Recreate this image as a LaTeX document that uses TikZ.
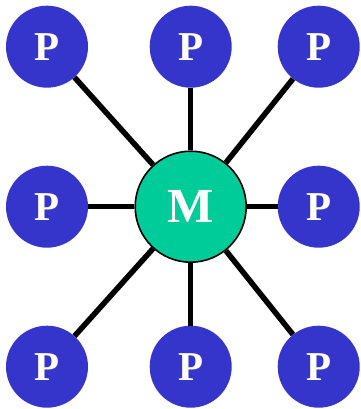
\documentclass[tikz,border=0pt]{standalone}
\usepackage{fontspec}
\setmainfont{Liberation Serif}
\usetikzlibrary{positioning}

\definecolor{procblue}{RGB}{53,53,204}
\definecolor{memgreen}{RGB}{0,204,153}

\begin{document}
\begin{tikzpicture}[x=1pt, y=-1pt,
    proc/.style={circle, fill=procblue, minimum size=82pt, inner sep=0pt, text=white, font=\bfseries\fontsize{41}{41}\selectfont},
    mem/.style={circle, draw=black, line width=1.6pt, fill=memgreen, minimum size=111pt, inner sep=0pt, text=white, font=\bfseries\fontsize{49}{49}\selectfont},
    link/.style={line width=5.5pt}]

    % Picture frame
    \useasboundingbox (0,0) rectangle (360,409);

    % Shared memory in the middle
    \node [mem] (memory) at (190.7,206.7) {M};

    % Processors, top row
    \node [proc] (p_nw) at (47,46.7) {P};
    \node [proc] (p_n) at (190.7,46.7) {P};
    \node [proc] (p_ne) at (318.7,46.7) {P};

    % Processors, middle row
    \node [proc] (p_w) at (47,206.7) {P};
    \node [proc] (p_e) at (318.7,206.7) {P};

    % Processors, bottom row
    \node [proc] (p_sw) at (47,366.7) {P};
    \node [proc] (p_s) at (190.7,366.7) {P};
    \node [proc] (p_se) at (318.7,366.7) {P};

    % Links to the memory
    \draw [link] (memory) -- (p_nw);
    \draw [link] (memory) -- (p_n);
    \draw [link] (memory) -- (p_ne);
    \draw [link] (memory) -- (p_w);
    \draw [link] (memory) -- (p_e);
    \draw [link] (memory) -- (p_sw);
    \draw [link] (memory) -- (p_s);
    \draw [link] (memory) -- (p_se);

\end{tikzpicture}
\end{document}
